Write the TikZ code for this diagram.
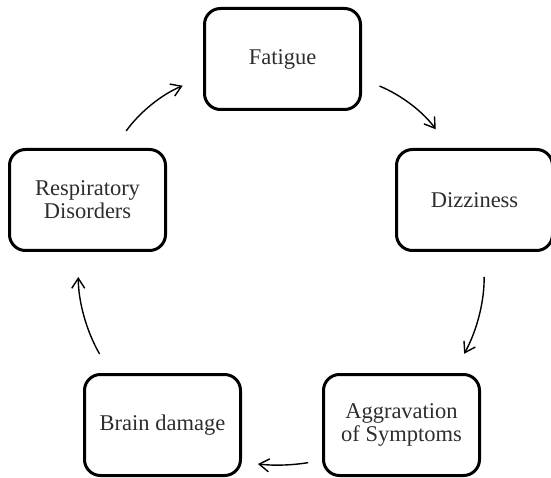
\documentclass[tikz,border=0pt]{standalone}
\usepackage{fontspec}
\setmainfont{Liberation Serif}
\usetikzlibrary{arrows.meta}
\definecolor{txt}{RGB}{45,45,45}
\begin{document}
\begin{tikzpicture}[x=1pt,y=-1pt,
  box/.style={draw=black, line width=3pt, rounded corners=16pt,
    minimum width=156pt, minimum height=101pt, align=center,
    text=txt, font=\fontsize{22.5}{23}\selectfont, inner sep=2pt},
  flow/.style={line width=1.4pt, -{Straight Barb[length=10pt,width=13pt,line width=1.4pt]}}]
\useasboundingbox (0,0) rectangle (551,478);
\node[box] (fat)  at (282.5,59)  {Fatigue};
\node[box] (diz)  at (474.5,200) {Dizziness};
\node[box] (agg)  at (401.5,425) {Aggravation\\of Symptoms};
\node[box] (brn)  at (162.5,425) {Brain damage};
\node[box] (resp) at (87.5,200)  {Respiratory\\Disorders};
\draw[flow, shorten <=21pt, shorten >=22pt] (resp.63) to[bend left=16] (fat.193.8);
\draw[flow, shorten <=19pt, shorten >=23pt] (fat.346.2) to[bend left=16] (diz.116);
\draw[flow, shorten <=25pt, shorten >=22pt] (diz.280.4) to[bend left=15] (agg.45);
\draw[flow, shorten <=14pt, shorten >=16pt] (agg.204.7) to[bend left=8] (brn.335.3);
\draw[flow, shorten <=22pt, shorten >=25pt] (brn.135) to[bend left=15] (resp.260.7);
\end{tikzpicture}
\end{document}
